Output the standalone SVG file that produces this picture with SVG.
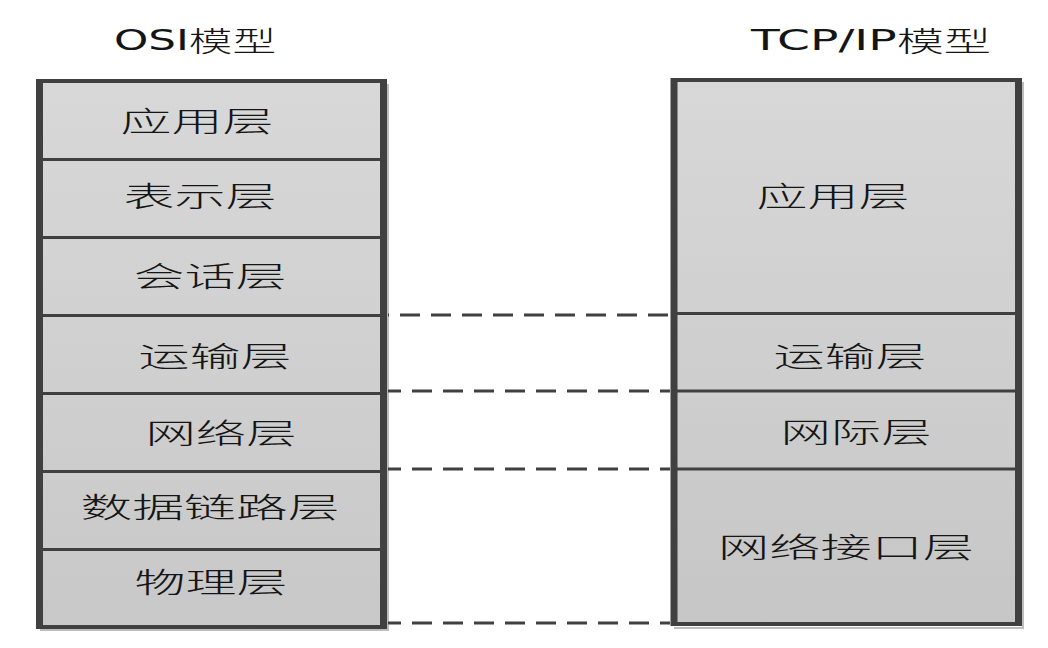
<svg xmlns="http://www.w3.org/2000/svg" width="1048" height="648" viewBox="0 0 1048 648">
  <defs>
    <linearGradient id="gl" gradientUnits="userSpaceOnUse" x1="0" y1="80" x2="0" y2="628">
      <stop offset="0" stop-color="#d8d8d8"/>
      <stop offset="1" stop-color="#c8c8c8"/>
    </linearGradient>
    <linearGradient id="gr" gradientUnits="userSpaceOnUse" x1="0" y1="80" x2="0" y2="624">
      <stop offset="0" stop-color="#d8d8d8"/>
      <stop offset="1" stop-color="#c6c6c6"/>
    </linearGradient>
  </defs>
  <style>
    .lbl { font-family: "Noto Sans CJK SC", "Noto Sans", sans-serif; font-size: 28px; font-weight: 300; fill: #151515; text-anchor: middle; dominant-baseline: central; }
    .ttl { font-family: "DejaVu Sans", "Noto Sans CJK SC", sans-serif; font-size: 28px; font-weight: normal; fill: #151515; text-anchor: middle; dominant-baseline: central; }
    .cjk { font-family: "Noto Sans CJK SC", sans-serif; font-weight: 300; }
    .div { stroke: #404040; stroke-width: 3; fill: none; }
    .vb { stroke: #404040; stroke-width: 7; fill: none; }
    .hb { stroke: #404040; stroke-width: 4; fill: none; }
    .shadow { fill: none; stroke: #bdbdbd; stroke-width: 2; }
    .dash { stroke: #404040; stroke-width: 3; stroke-dasharray: 20 11; fill: none; }
  </style>

  <rect width="1048" height="648" fill="#ffffff"/>

  <g id="titles">
    <text class="ttl" x="195" y="40" textLength="162" lengthAdjust="spacingAndGlyphs">OSI<tspan class="cjk">模型</tspan></text>
    <text class="ttl" x="871" y="40" textLength="240" lengthAdjust="spacingAndGlyphs">TCP/IP<tspan class="cjk">模型</tspan></text>
  </g>

  <g id="osi-model">
    <rect x="37" y="80" width="349" height="548" fill="url(#gl)"/>
    <path class="shadow" d="M388 84 V630 H40"/>
    <g id="osi-application"><text class="lbl" x="197" y="120" textLength="153" lengthAdjust="spacingAndGlyphs">应用层</text></g>
    <g id="osi-presentation"><text class="lbl" x="200" y="195" textLength="153" lengthAdjust="spacingAndGlyphs">表示层</text></g>
    <g id="osi-session"><text class="lbl" x="210" y="275" textLength="153" lengthAdjust="spacingAndGlyphs">会话层</text></g>
    <g id="osi-transport"><text class="lbl" x="215" y="355" textLength="153" lengthAdjust="spacingAndGlyphs">运输层</text></g>
    <g id="osi-network"><text class="lbl" x="221" y="432" textLength="151" lengthAdjust="spacingAndGlyphs">网络层</text></g>
    <g id="osi-datalink"><text class="lbl" x="210" y="506" textLength="259" lengthAdjust="spacingAndGlyphs">数据链路层</text></g>
    <g id="osi-physical"><text class="lbl" x="211" y="581" textLength="153" lengthAdjust="spacingAndGlyphs">物理层</text></g>
    <path class="div" d="M40 159.5 H383 M40 237.5 H383 M40 315.5 H383 M40 393.5 H383 M40 471.5 H383 M40 549.5 H383"/>
    <path class="hb" d="M37 81 H386 M37 627 H386"/>
    <path class="vb" d="M39.5 79 V629 M383.5 79 V629"/>
  </g>

  <g id="tcpip-model">
    <rect x="671" y="78" width="350" height="548" fill="url(#gr)"/>
    <path class="shadow" d="M1023 82 V628 H674"/>
    <g id="tcp-application"><text class="lbl" x="833" y="195" textLength="153" lengthAdjust="spacingAndGlyphs">应用层</text></g>
    <g id="tcp-transport"><text class="lbl" x="850" y="355" textLength="153" lengthAdjust="spacingAndGlyphs">运输层</text></g>
    <g id="tcp-internet"><text class="lbl" x="856" y="431" textLength="151" lengthAdjust="spacingAndGlyphs">网际层</text></g>
    <g id="tcp-netinterface"><text class="lbl" x="846" y="546" textLength="256" lengthAdjust="spacingAndGlyphs">网络接口层</text></g>
    <path class="div" d="M674 313.5 H1018 M674 391 H1018 M674 469 H1018"/>
    <path class="hb" d="M671 80 H1021 M671 624 H1021"/>
    <path class="vb" d="M674 78 V626 M1018.5 78 V626"/>
  </g>

  <g id="connectors">
    <line class="dash" x1="388" y1="315" x2="670" y2="315" stroke-dashoffset="19"/>
    <line class="dash" x1="388" y1="391" x2="670" y2="391" stroke-dashoffset="7"/>
    <line class="dash" x1="388" y1="469" x2="670" y2="469" stroke-dashoffset="7"/>
    <line class="dash" x1="388" y1="623" x2="670" y2="623" stroke-dashoffset="7"/>
  </g>
</svg>
